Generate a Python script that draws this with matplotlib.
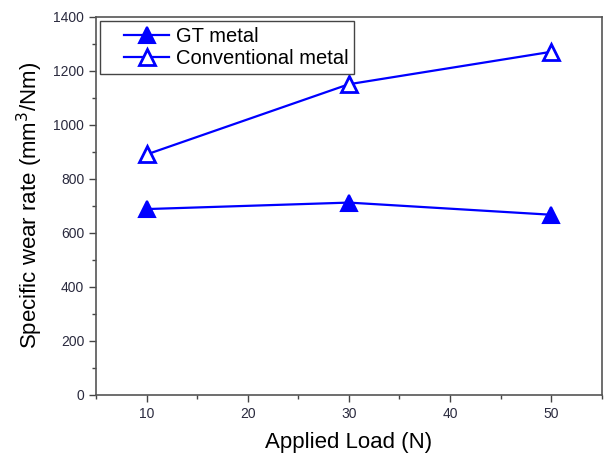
import matplotlib
matplotlib.use("Agg")
import matplotlib.pyplot as plt
from matplotlib.ticker import MultipleLocator
from matplotlib.legend_handler import HandlerLine2D

plt.rcParams['font.family'] = ['Liberation Sans', 'DejaVu Sans']

# data
load = [10, 30, 50]
gt_metal = [688, 712, 667]
conventional_metal = [890, 1150, 1270]


class PaddedLineHandler(HandlerLine2D):
    # leaves some empty room on the left of the legend sample line
    def create_artists(self, legend, orig_handle, xdescent, ydescent,
                       width, height, fontsize, trans):
        pad = width * 0.28
        return super().create_artists(legend, orig_handle, xdescent - pad,
                                      ydescent, width - pad, height,
                                      fontsize, trans)


fig = plt.figure(figsize=(6.09, 4.57), dpi=100)
ax = fig.add_axes([0.1576, 0.1357, 0.8304, 0.8278])

ax.plot(load, gt_metal, '-^', color='#0000ff', lw=1.6, ms=12, mew=1.5,
        label='GT metal')
ax.plot(load, conventional_metal, '-^', color='#0000ff', lw=1.6, ms=12, mew=2,
        mfc='white', label='Conventional metal')

ax.set_xlim(5, 55)
ax.set_ylim(0, 1400)
ax.xaxis.set_major_locator(MultipleLocator(10))
ax.xaxis.set_minor_locator(MultipleLocator(5))
ax.yaxis.set_major_locator(MultipleLocator(200))
ax.yaxis.set_minor_locator(MultipleLocator(100))

tick_col = '#2a2a3e'
ax.tick_params(which='both', direction='out', top=False, right=False,
               color='#444444', width=1.0, labelsize=10, labelcolor=tick_col)
ax.tick_params(which='major', length=5)
ax.tick_params(which='minor', length=3)
for s in ax.spines.values():
    s.set_color('#555555')
    s.set_linewidth(1.2)

ax.set_xlabel('Applied Load (N)', fontsize=16, labelpad=8)
ax.set_ylabel('Specific wear rate (mm$^3$/Nm)', fontsize=16, labelpad=6)

leg = ax.legend(loc='upper left', fontsize=14.5, fancybox=False, framealpha=1,
                edgecolor='#444444', borderaxespad=0.2, handlelength=3.15,
                labelspacing=0.15, borderpad=0.3, handletextpad=0.3,
                handler_map={matplotlib.lines.Line2D: PaddedLineHandler()})
leg.get_frame().set_linewidth(1.0)

fig.savefig('out.png', dpi=100)
